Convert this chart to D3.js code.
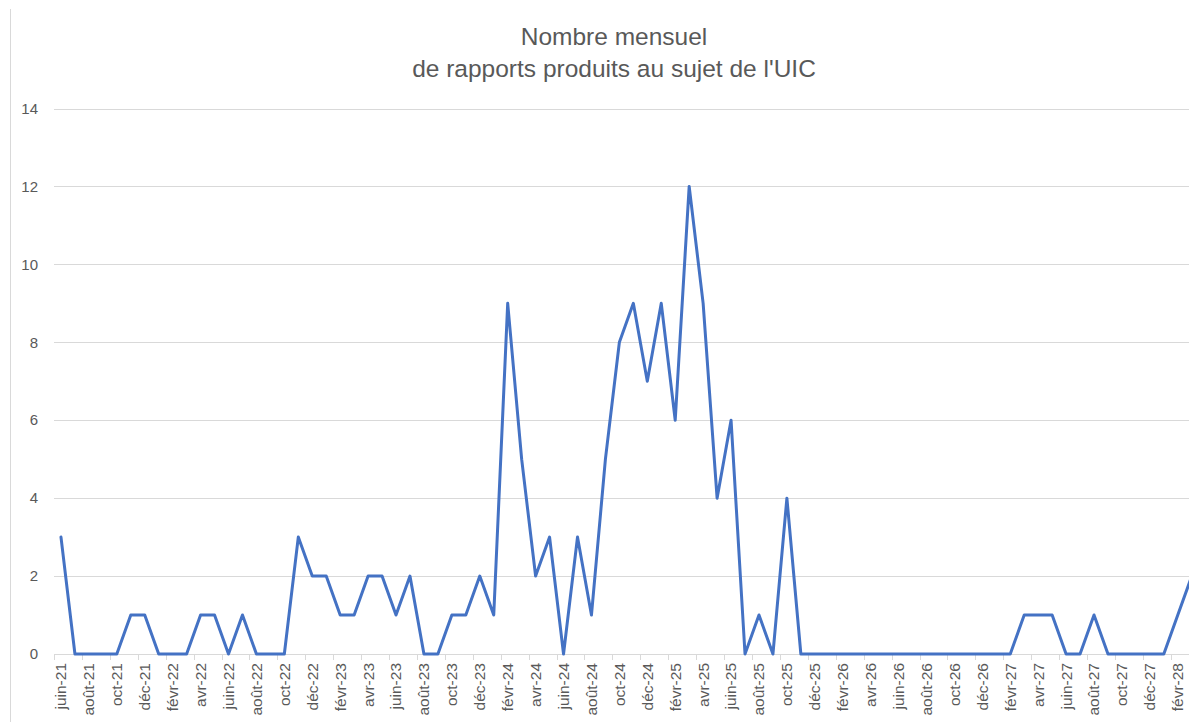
<!DOCTYPE html>
<html>
<head>
<meta charset="utf-8">
<script src="https://cdn.jsdelivr.net/npm/d3@7"></script>
<style>
  body { margin: 0; background: #fff; }
  svg { display: block; }
  text { font-family: "Liberation Sans", Arial, sans-serif; fill: #595959; }
</style>
</head>
<body>
<script>
var monthNames = ['janv', 'févr', 'mars', 'avr', 'mai', 'juin', 'juil', 'août', 'sept', 'oct', 'nov', 'déc'];
var startMonth = 5, startYear = 21, monthCount = 82;   // juin-21 .. mars-28

var values = [
    3, 0, 0, 0, 0, 1, 1,                 // juin-21 .. déc-21
    0, 0, 0, 1, 1, 0, 1, 0, 0, 0, 3, 2,  // 2022
    2, 1, 1, 2, 2, 1, 2, 0, 0, 1, 1, 2,  // 2023
    1, 9, 5, 2, 3, 0, 3, 1, 5, 8, 9, 7,  // 2024
    9, 6, 12, 9, 4, 6, 0, 1, 0, 4, 0, 0, // 2025
    0, 0, 0, 0, 0, 0, 0, 0, 0, 0, 0, 0,  // 2026
    0, 0, 1, 1, 1, 0, 0, 1, 0, 0, 0, 0,  // 2027
    0, 1, 2                              // 2028
];

var yTicks = [0, 2, 4, 6, 8, 10, 12, 14];

var titleLines = ['Nombre mensuel', "de rapports produits au sujet de l'UIC"];

var categories = [];
for (var i = 0; i < monthCount; i++) {
    var m = (startMonth + i) % 12;
    var y = startYear + Math.floor((startMonth + i) / 12);
    categories.push(monthNames[m] + '-' + y);
}

var w = 1189, h = 722;
var left = 54, step = 13.96;

var svg = d3.select('body').append('svg')
    .attr('width', w)
    .attr('height', h);

var x = d3.scaleBand()
    .domain(categories)
    .range([left, left + step * categories.length]);

var yScale = d3.scaleLinear()
    .domain([0, 14])
    .range([654, 108.5]);

// chart border (left edge only visible)
svg.append('line')
    .attr('x1', 10.5).attr('x2', 10.5)
    .attr('y1', 9).attr('y2', h)
    .attr('stroke', '#d9d9d9');

// title
svg.append('g').selectAll('text')
    .data(titleLines)
    .enter().append('text')
    .attr('x', 614)
    .attr('y', function (d, i) { return 45 + i * 32; })
    .attr('text-anchor', 'middle')
    .style('font-size', '24.5px')
    .text(function (d) { return d; });

// gridlines
svg.append('g').selectAll('line')
    .data(yTicks)
    .enter().append('line')
    .attr('x1', left)
    .attr('x2', w)
    .attr('y1', function (d) { return Math.round(yScale(d)) + 0.5; })
    .attr('y2', function (d) { return Math.round(yScale(d)) + 0.5; })
    .attr('stroke', '#d9d9d9')
    .attr('stroke-width', 1);

// y labels
svg.append('g').selectAll('text')
    .data(yTicks)
    .enter().append('text')
    .attr('x', 38)
    .attr('y', function (d) { return yScale(d); })
    .attr('dy', '0.35em')
    .attr('text-anchor', 'end')
    .style('font-size', '15px')
    .text(function (d) { return d; });

// x tick marks between categories, every 2 months
var tickCats = categories.filter(function (d, i) { return i % 2 === 0; });
svg.append('g').selectAll('line')
    .data(tickCats)
    .enter().append('line')
    .attr('x1', function (d) { return Math.round(x(d)) + 0.5; })
    .attr('x2', function (d) { return Math.round(x(d)) + 0.5; })
    .attr('y1', yScale(0))
    .attr('y2', yScale(0) + 6)
    .attr('stroke', '#d9d9d9');

// x labels
var xAxis = d3.axisBottom(x)
    .tickValues(tickCats)
    .tickSize(0)
    .tickPadding(0);

var gx = svg.append('g')
    .attr('transform', 'translate(0,' + yScale(0) + ')')
    .call(xAxis);
gx.select('.domain').remove();
gx.selectAll('text')
    .attr('transform', 'rotate(-90)')
    .attr('x', -9)
    .attr('y', 0)
    .attr('dy', '0.35em')
    .attr('text-anchor', 'end')
    .style('font-size', '15.5px')
    .style('font-family', '"Liberation Sans", Arial, sans-serif')
    .attr('fill', '#595959');

// line
var line = d3.line()
    .x(function (d, i) { return x(categories[i]) + x.bandwidth() / 2; })
    .y(function (d) { return yScale(d); });

svg.append('path')
    .datum(values)
    .attr('d', line)
    .attr('fill', 'none')
    .attr('stroke', '#4472c4')
    .attr('stroke-width', 3)
    .attr('stroke-linejoin', 'round')
    .attr('stroke-linecap', 'round');
</script>
</body>
</html>
